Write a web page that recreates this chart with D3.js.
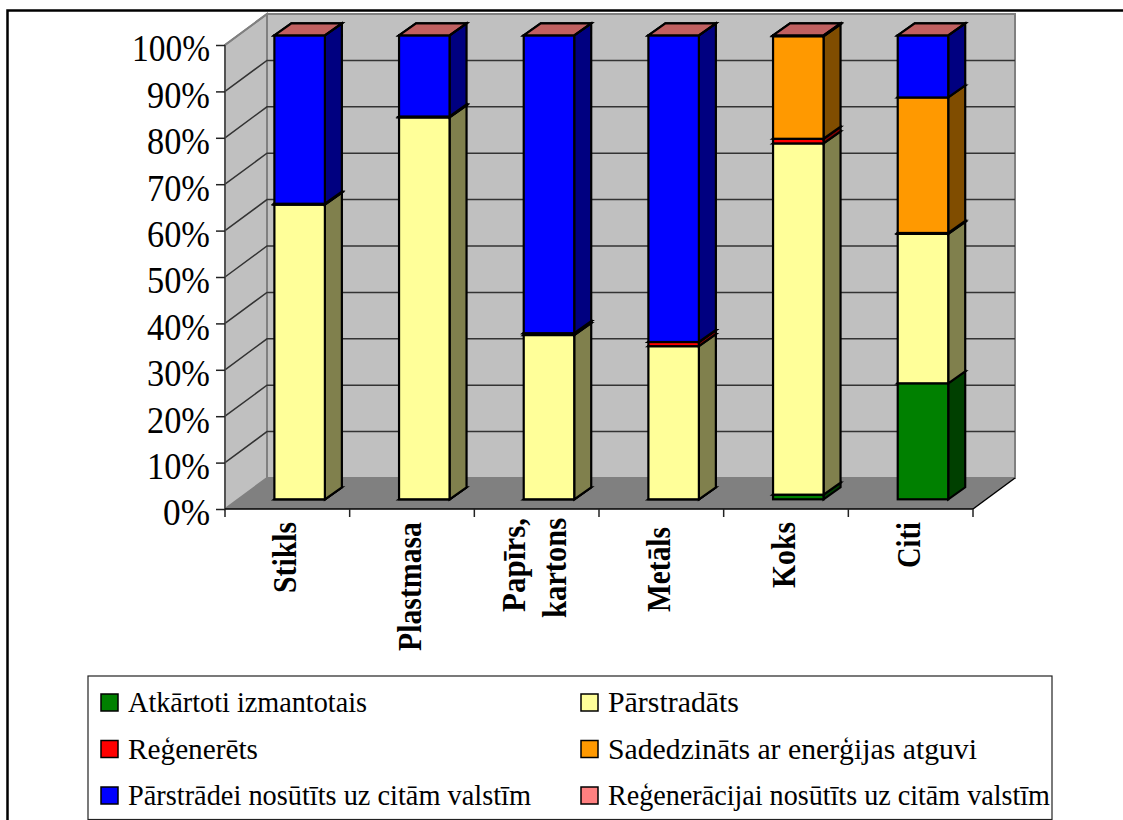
<!DOCTYPE html>
<html><head><meta charset="utf-8">
<script src="https://cdn.jsdelivr.net/npm/d3@7/dist/d3.min.js"></script>
<style>html,body{margin:0;padding:0;background:#fff}svg{display:block}text{font-family:"Liberation Serif","Times New Roman",serif;fill:#000}</style>
</head><body><svg id="c" width="1123" height="820"></svg>
<script>
const categories=["Stikls","Plastmasa","Papīrs,|kartons","Metāls","Koks","Citi"];
const seriesNames=["Atkārtoti izmantotais","Pārstradāts","Reģenerēts","Sadedzināts ar enerģijas atguvi","Pārstrādei nosūtīts uz citām valstīm","Reģenerācijai nosūtīts uz citām valstīm"];
const seriesColors=["#008000","#FFFF99","#FF0000","#FF9900","#0000FF","#FF8080"];
const sideColors=["#004000","#80804D","#800000","#804D00","#000080","#804040"];
const topColors=["#006000","#BFBF73","#BF0000","#BF7300","#0000BF","#C06060"];
const atkartoti=[0,0,0,0,1,25];
const parstradats=[63.5,82.3,35.4,33,75.7,32.2];
const regenerets=[0.2,0.2,0.4,0.9,1,0.2];
const sadedzinats=[0,0,0,0,22.1,29.2];
const parstradei=[36.3,17.5,64.2,66.1,0.2,13.4];
const regeneracijai=[0,0,0,0,0,0];
const seriesValues=[atkartoti,parstradats,regenerets,sadedzinats,parstradei,regeneracijai];
const yTicks=[0,10,20,30,40,50,60,70,80,90,100];
const legendTextWidths=[239,131,130,369,403,442];
const labelWidths={"Stikls":71,"Plastmasa":129,"Papīrs,":94,"kartons":100,"Metāls":85,"Koks":66,"Citi":46};
const labelTops={"Stikls":522,"Plastmasa":522,"Papīrs,":518,"kartons":518,"Metāls":527,"Koks":522,"Citi":522};

const svg=d3.select("#c");
const plot={left:225,right:973,bottom:509,top:45,dx:42,dy:31};
const barDx=17,barDy=12,barShift=12.3,barLift=9.7;
const x=d3.scaleBand().domain(categories).range([plot.left,plot.right]).paddingInner(0.595).paddingOuter(0.2975);
const y=d3.scaleLinear().domain([0,100]).range([plot.bottom,plot.top]);
const yb=v=>y(v)-barLift;
const pts=a=>a.map(p=>p.join(",")).join(" ");

svg.append("path").attr("d","M7.5,820V10.5H1123").attr("fill","none").attr("stroke","#000").attr("stroke-width",2.5);

const L=plot.left,R=plot.right,B=plot.bottom,T=plot.top,dx=plot.dx,dy=plot.dy;
svg.append("polygon").attr("points",pts([[L,T],[L+dx,T-dy],[L+dx,B-dy],[L,B]])).attr("fill","#C0C0C0").attr("stroke","#808080").attr("stroke-width",2);
svg.append("polygon").attr("points",pts([[L+dx,T-dy],[R+dx,T-dy],[R+dx,B-dy],[L+dx,B-dy]])).attr("fill","#C0C0C0").attr("stroke","#808080").attr("stroke-width",2);
svg.append("polygon").attr("points",pts([[L,B],[L+dx,B-dy],[R+dx,B-dy],[R,B]])).attr("fill","#808080");

const grid=svg.append("g").attr("stroke","#333").attr("stroke-width",1.5).attr("fill","none");
yTicks.filter(t=>t>0&&t<100).forEach(t=>{
  grid.append("path").attr("d",`M${L},${y(t)}L${L+dx},${y(t)-dy}H${R+dx}`);
});
svg.append("path").attr("d",`M${L},${T}L${L+dx},${T-dy}`).attr("stroke","#808080").attr("stroke-width",2).attr("fill","none");
svg.append("path").attr("d",`M${R},${B}L${R+dx},${B-dy}`).attr("stroke","#000").attr("stroke-width",1.5).attr("fill","none");

const rows=categories.map((c,i)=>{const r={cat:c};seriesNames.forEach((s,j)=>r[s]=seriesValues[j][i]);return r;});
const stacked=d3.stack().keys(seriesNames)(rows);
const bars=svg.append("g").attr("stroke","#000").attr("stroke-width",2.2).attr("stroke-linejoin","miter");
categories.forEach((c,i)=>{
  const x0=x(c)+barShift,x1=x0+x.bandwidth();
  stacked.forEach((layer,j)=>{
    const a=yb(layer[i][0]),b=yb(layer[i][1]);
    bars.append("polygon").attr("points",pts([[x0,b],[x0+barDx,b-barDy],[x1+barDx,b-barDy],[x1,b]])).attr("fill",topColors[j]);
    bars.append("polygon").attr("points",pts([[x1,a],[x1+barDx,a-barDy],[x1+barDx,b-barDy],[x1,b]])).attr("fill",sideColors[j]);
    bars.append("rect").attr("x",x0).attr("y",b).attr("width",x1-x0).attr("height",a-b).attr("fill",seriesColors[j]);
  });
});

const yAxis=d3.axisLeft(y).tickValues(yTicks).tickFormat(d=>d+"%").tickSize(9).tickPadding(6);
const gy=svg.append("g").attr("transform",`translate(${L},0)`).call(yAxis);
gy.selectAll("text").attr("font-size",37).attr("dy","0.43em").style("fill","#000")
  .attr("textLength",d=>d===100?78:d===0?47:63).attr("lengthAdjust","spacingAndGlyphs");
gy.selectAll("line").attr("stroke","#222").attr("stroke-width",1.5);
gy.select(".domain").attr("stroke","#444").attr("stroke-width",1.5).attr("d",`M0,${T}V${B}`);

const xAxis=d3.axisBottom(x).tickSize(0).tickFormat("");
const gx=svg.append("g").attr("transform",`translate(0,${B})`).call(xAxis);
gx.select(".domain").attr("stroke","#000").attr("stroke-width",1.5).attr("d",`M${L},0H${R}`);
d3.range(0,categories.length+1).forEach(k=>{
  const px=L+(R-L)*k/categories.length;
  gx.append("line").attr("x1",px).attr("x2",px).attr("y1",0).attr("y2",8).attr("stroke","#222").attr("stroke-width",1.5);
});
categories.forEach(c=>{
  const parts=c.split("|"),cx=x(c)+x.bandwidth()/2;
  const lh=41;
  parts.forEach((p,k)=>{
    const px=cx+9+(k-(parts.length-1)/2)*lh;
    svg.append("text").attr("transform",`translate(${px},${labelTops[p]}) rotate(-90)`).attr("text-anchor","end").attr("font-weight","bold").attr("font-size",33)
      .attr("textLength",labelWidths[p]).attr("lengthAdjust","spacingAndGlyphs").text(p);
  });
});

svg.append("rect").attr("x",88).attr("y",676).attr("width",964).attr("height",143.5).attr("fill","#fff").attr("stroke","#222").attr("stroke-width",1.2);
const lx=[101,581],ly=[702.5,749,795.5];
seriesNames.forEach((s,i)=>{
  const col=i%2,row=Math.floor(i/2);
  svg.append("rect").attr("x",lx[col]).attr("y",ly[row]-8.5).attr("width",17).attr("height",17).attr("fill",seriesColors[i]).attr("stroke","#000").attr("stroke-width",1.5);
  svg.append("text").attr("x",lx[col]+27).attr("y",ly[row]+9.5).attr("font-size",30).attr("textLength",legendTextWidths[i]).attr("lengthAdjust","spacingAndGlyphs").text(s);
});
</script></body></html>
